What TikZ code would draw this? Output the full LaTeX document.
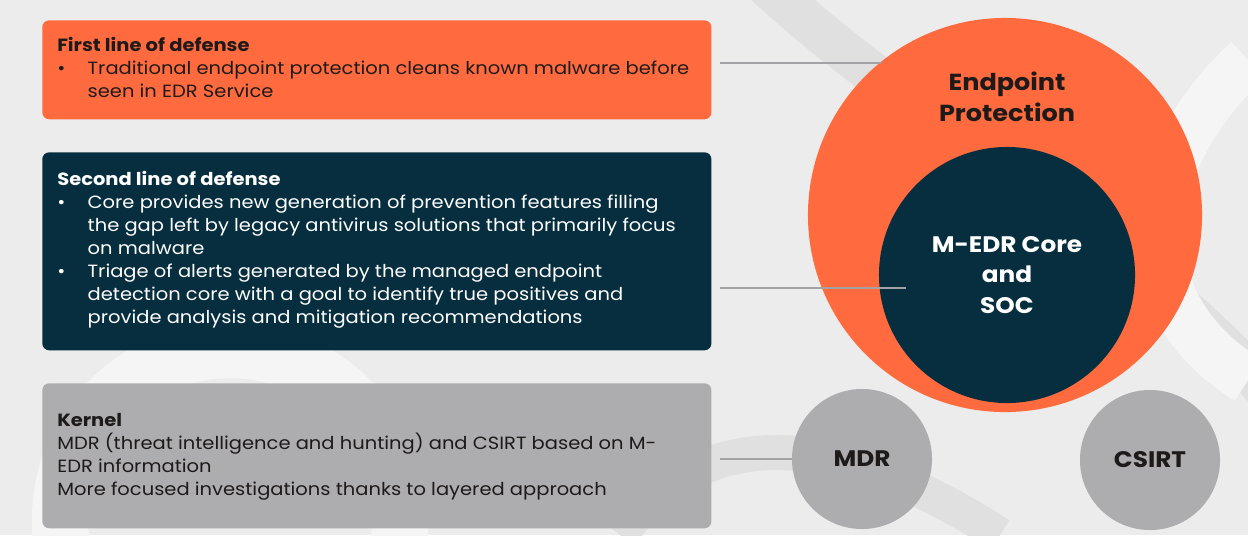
\documentclass[tikz,border=0pt]{standalone}
\usepackage{fontspec}
\setmainfont{Poppins}[FakeStretch=1.1]
\usetikzlibrary{positioning}
\definecolor{edrorange}{HTML}{FF6B3F}
\definecolor{edrnavy}{HTML}{062E3E}
\definecolor{kernelgray}{HTML}{ADADB0}
\definecolor{bggray}{HTML}{ECECEC}
\definecolor{swirldark}{HTML}{E0E0E1}
\definecolor{swirllight}{HTML}{F5F5F5}
\definecolor{linkgray}{HTML}{A3A3A6}
\definecolor{inktext}{HTML}{1E1A19}
\tikzset{
  panel/.style={anchor=north west, rounded corners=5pt, inner sep=0pt, minimum width=16.725cm},
  paneltext/.style={anchor=north west, align=left, inner sep=0pt, font=\fontsize{12.6}{16.4}\selectfont},
  disc/.style={circle, inner sep=0pt, align=center, font=\bfseries\fontsize{16}{21.5}\selectfont},
  link/.style={draw=linkgray, line width=1.2pt}
}
\newcommand{\bul}{\makebox[0.76cm][l]{\textbullet}}
\newcommand{\ind}{\hspace*{0.76cm}}
\begin{document}
\begin{tikzpicture}[x=0.025cm, y=-0.025cm]
  % background
  \fill[bggray] (0,0) rectangle (1248,535);
  \begin{scope}
    \clip (0,0) rectangle (1248,535);
    \draw[swirllight, line width=40pt] (230,520) circle[radius=170];
    \draw[swirldark, line width=30pt] (740,-40) .. controls (900,120) and (1150,240) .. (1300,430);
    \draw[swirllight, line width=35pt] (1248,60) .. controls (1140,160) and (1120,300) .. (1248,380);
    \draw[swirldark, line width=25pt] (620,535) .. controls (700,430) and (820,420) .. (1000,535);
  \end{scope}
  \useasboundingbox (0,0) rectangle (1248,535);

  % left panels
  \node[panel, fill=edrorange, minimum height=2.475cm] (first) at (42,20) {};
  \node[panel, fill=edrnavy, minimum height=4.95cm] (second) at (42,152) {};
  \node[panel, fill=kernelgray, minimum height=3.625cm] (kernel) at (42,383) {};

  \node[paneltext, text=inktext] (firsttxt) at (57,37)
    {\textbf{First line of defense}\\
     \bul Traditional endpoint protection cleans known malware before\\
     \ind seen in EDR Service};
  \node[paneltext, text=white] (secondtxt) at (57,171)
    {\textbf{Second line of defense}\\
     \bul Core provides new generation of prevention features filling\\
     \ind the gap left by legacy antivirus solutions that primarily focus\\
     \ind on malware\\
     \bul Triage of alerts generated by the managed endpoint\\
     \ind detection core with a goal to identify true positives and\\
     \ind provide analysis and mitigation recommendations};
  \node[paneltext, text=inktext] (kerneltxt) at (57,413)
    {\textbf{Kernel}\\
     MDR (threat intelligence and hunting) and CSIRT based on M-\\
     EDR information\\
     More focused investigations thanks to layered approach};

  % circles
  \node[disc, fill=edrorange, minimum size=9.85cm] (ep) at (1005,215) {};
  \node[disc, text=inktext, font=\bfseries\fontsize{16.5}{22}\selectfont] (eptxt) at (1007,97) {Endpoint\\Protection};
  \node[disc, fill=edrnavy, text=white, minimum size=6.4cm] (core) at (1007,275) {M-EDR Core\\and\\SOC};
  \node[disc, fill=kernelgray, text=inktext, minimum size=3.5cm] (mdr) at (862,459) {MDR};
  \node[disc, fill=kernelgray, text=inktext, minimum size=3.5cm] (csirt) at (1150,460) {CSIRT};

  % connectors
  \coordinate (s1) at (720,63);
  \coordinate (s2) at (720,288);
  \coordinate (e2) at (906,288);
  \coordinate (s3) at (720,459);
  \draw[link] (s1) -- (s1 -| ep.129.4);
  \draw[link] (s2) -- (e2);
  \draw[link] (s3) -- (mdr.west);
\end{tikzpicture}
\end{document}
